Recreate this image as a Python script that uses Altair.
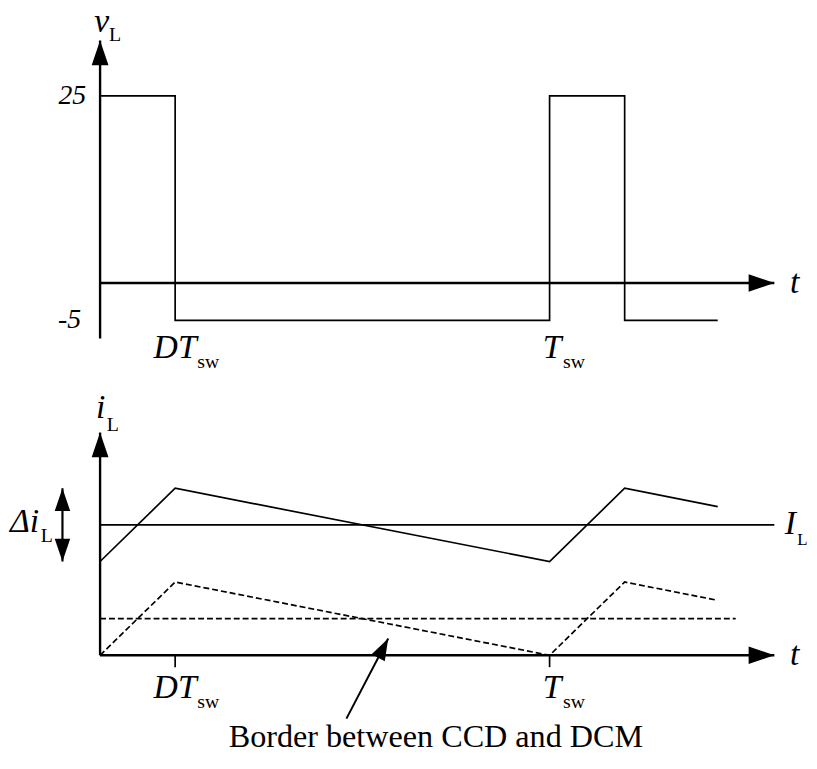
import altair as alt
import pandas as pd

# ---------------- data ----------------
# time in units of T_sw ; duty ratio D ~ 1/6
D = 0.167
# top panel: inductor voltage v_L (V)
vl_t = [0, 0.167, 0.167, 1.0, 1.0, 1.167, 1.167, 1.374]
vl_v = [25, 25, -5, -5, 25, 25, -5, -5]

# bottom panel: inductor current (normalised so that delta i_L = 1)
ccm_t = [0, 0.167, 1.0, 1.167, 1.374]
ccm_i = [1.28, 2.28, 1.28, 2.28, 2.03]
bcm_t = [0, 0.167, 1.0, 1.167, 1.374]
bcm_i = [0, 1.0, 0, 1.0, 0.75]
IL_ccm = 1.78
IL_bcm = 0.5
IL_ccm_end = 1.5
IL_bcm_end = 1.414

# scales (data units)
X_DOM = [-0.20485, 1.57709]
V_DOM = [-63.36, 36.243]
I_DOM = [-1.392, 8.784]
W, H = 809, 753
FONT = "Liberation Serif"
HEAD = "M0,0 L-0.68,2 L0.68,2 Z"
MAIN = 34
SUB = 20


def X(f="t"):
    return alt.X(f"{f}:Q", scale=alt.Scale(domain=X_DOM, nice=False, zero=False), axis=None)


def Y(f, dom):
    return alt.Y(f"{f}:Q", scale=alt.Scale(domain=dom, nice=False, zero=False), axis=None)


def waveform(ts, ys, dom, dash=None):
    df = pd.DataFrame({"t": ts, "y": ys, "k": list(range(len(ts)))})
    kw = dict(color="black", strokeWidth=1.7)
    if dash:
        kw["strokeDash"] = dash
    return alt.Chart(df).mark_line(**kw).encode(x=X(), y=Y("y", dom), order=alt.Order("k:Q"))


def rules(rows, dom, dash=None):
    df = pd.DataFrame(rows, columns=["t", "t2", "y", "y2", "w"])
    kw = dict(color="black")
    if dash:
        kw["strokeDash"] = dash
    return alt.Chart(df).mark_rule(**kw).encode(
        x=X(), x2=alt.X2("t2:Q"), y=Y("y", dom), y2=alt.Y2("y2:Q"),
        strokeWidth=alt.StrokeWidth("w:Q", scale=None))


def heads(rows, dom):
    df = pd.DataFrame(rows, columns=["t", "y", "ang", "s"])
    return alt.Chart(df).mark_point(shape=HEAD, filled=True, color="black", opacity=1, strokeWidth=0).encode(
        x=X(), y=Y("y", dom), angle=alt.Angle("ang:Q", scale=None), size=alt.Size("s:Q", scale=None))


def texts(rows, dom, size, style="normal", align="left", baseline="alphabetic"):
    df = pd.DataFrame(rows, columns=["t", "y", "s"])
    return alt.Chart(df).mark_text(font=FONT, fontSize=size, fontStyle=style, align=align,
                                   baseline=baseline, color="black").encode(
        x=X(), y=Y("y", dom), text="s:N")


# ---------------- top panel ----------------
top = [
    waveform(vl_t, vl_v, V_DOM),
    rules([[0, 0, -7.41, 32.4, 2.4], [0, 1.5, 0, 0, 2.4]], V_DOM),
    heads([[0, 32.4, 0, 625], [1.5, 0, 90, 676]], V_DOM),
    texts([[-0.013, 33.6, "v"], [1.535, -1.32, "t"], [0.119, -10.05, "DT"], [0.985, -10.05, "T"]],
          V_DOM, MAIN, "italic"),
    texts([[0.020, 32.3, "L"], [0.216, -11.38, "sw"], [1.030, -11.38, "sw"]], V_DOM, SUB),
    texts([[-0.031, 25, "25"], [-0.042, -5, "-5"]], V_DOM, 28, "italic", "right", "middle"),
]

# ---------------- bottom panel ----------------
bottom = [
    waveform(ccm_t, ccm_i, I_DOM),
    waveform(bcm_t, bcm_i, I_DOM, dash=[6, 3]),
    rules([[0, IL_ccm_end, IL_ccm, IL_ccm, 1.7]], I_DOM),
    rules([[0, IL_bcm_end, IL_bcm, IL_bcm, 1.7]], I_DOM, dash=[6, 3]),
    rules([[0, 0, 0, 3.04, 2.4], [0, 1.5, 0, 0, 2.4],
           [D, D, 0, -0.162, 1.7], [1.0, 1.0, 0, -0.162, 1.7],
           [-0.0837, -0.0837, 1.28, 2.28, 2.2],
           [0.548, 0.641, -0.865, 0.23, 2.0]], I_DOM),
    heads([[0, 3.04, 0, 625], [1.5, 0, 90, 676],
           [-0.0837, 2.28, 0, 529], [-0.0837, 1.28, 180, 529],
           [0.641, 0.23, 27.4, 484]], I_DOM),
    texts([[-0.009, 3.243, "i"], [1.535, -0.135, "t"], [0.119, -0.581, "DT"], [0.985, -0.581, "T"],
           [1.523, 1.662, "I"], [-0.2004, 1.689, "Δi"]], I_DOM, MAIN, "italic"),
    texts([[0.015, 3.06, "L"], [0.216, -0.716, "sw"], [1.030, -0.716, "sw"],
           [-0.132, 1.54, "L"]], I_DOM, SUB),
    texts([[1.551, 1.50, "L"]], I_DOM, 17),
    texts([[0.747, -1.257, "Border between CCD and DCM"]], I_DOM, 32.5, "normal", "center"),
]

chart = alt.layer(*top, *bottom).resolve_scale(y="independent").properties(
    width=W, height=H, padding=0, autosize=alt.AutoSizeParams(type="none"),
    background="white",
).configure_view(stroke=None)

chart.save("out.html", embed_options={"renderer": "svg", "actions": False})
